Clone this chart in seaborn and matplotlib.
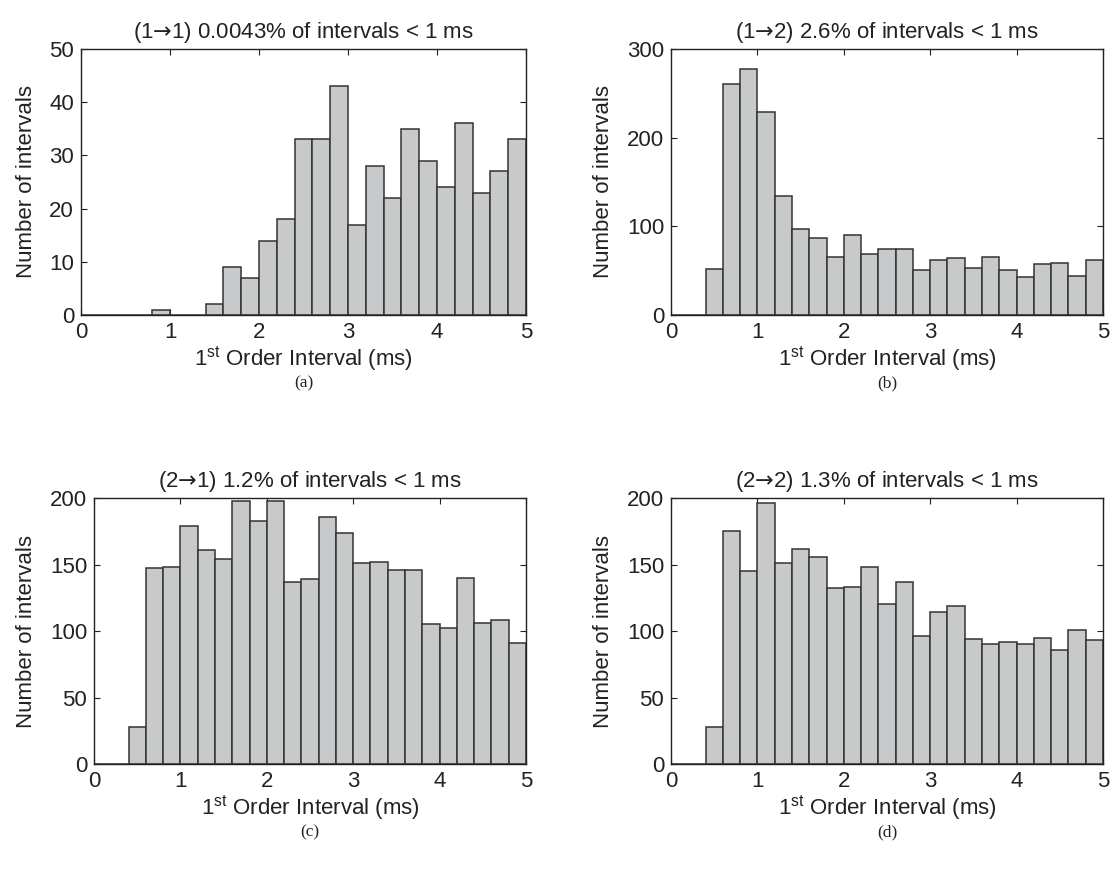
import numpy as np
import pandas as pd
import seaborn as sns
import matplotlib
matplotlib.use("Agg")
import matplotlib.pyplot as plt

# histogram bins: 25 bins of 0.2 ms between 0 and 5 ms
bin_edges = np.linspace(0, 5, 26)
bin_centers = (bin_edges[:-1] + bin_edges[1:]) / 2

counts_11 = [0, 0, 0, 0, 1, 0, 0, 2, 9, 7, 14, 18, 33, 33, 43, 17, 28, 22, 35, 29, 24, 36, 23, 27, 33]
counts_12 = [0, 0, 52, 261, 277, 229, 134, 97, 87, 65, 90, 69, 74, 74, 51, 62, 64, 53, 65, 51, 43, 57, 59, 44, 62]
counts_21 = [0, 0, 28, 147, 148, 179, 161, 154, 198, 183, 198, 137, 139, 186, 174, 151, 152, 146, 146, 105, 102, 140, 106, 108, 91]
counts_22 = [0, 0, 28, 175, 145, 196, 151, 162, 156, 132, 133, 148, 120, 137, 96, 114, 119, 94, 90, 92, 90, 95, 86, 101, 93]

titles = ["(1$\\mathsf{\u2192}$1) 0.0043% of intervals < 1 ms",
          "(1$\\mathsf{\u2192}$2) 2.6% of intervals < 1 ms",
          "(2$\\mathsf{\u2192}$1) 1.2% of intervals < 1 ms",
          "(2$\\mathsf{\u2192}$2) 1.3% of intervals < 1 ms"]
panel_labels = ["(a)", "(b)", "(c)", "(d)"]
y_max = [50, 300, 200, 200]
y_ticks = [[0, 10, 20, 30, 40, 50], [0, 100, 200, 300],
           [0, 50, 100, 150, 200], [0, 50, 100, 150, 200]]
x_ticks = [0, 1, 2, 3, 4, 5]

sns.set_style("ticks")
plt.rcParams['font.family'] = ['Liberation Sans', 'DejaVu Sans']
plt.rcParams['mathtext.fontset'] = 'custom'
plt.rcParams['mathtext.rm'] = 'Liberation Sans'
plt.rcParams['mathtext.it'] = 'Liberation Sans'
plt.rcParams['mathtext.sf'] = 'DejaVu Sans'

W, H = 1112, 871
fig = plt.figure(figsize=(W / 100, H / 100), dpi=100)

# axes boxes in pixels: left, top, right, bottom
boxes = [(81, 49, 526, 315), (671, 49, 1103, 315),
         (94, 498, 526, 764), (671, 498, 1103, 764)]

all_counts = [counts_11, counts_12, counts_21, counts_22]
for i in range(4):
    l, t, r, b = boxes[i]
    ax = fig.add_axes([l / W, 1 - b / H, (r - l) / W, (b - t) / H])
    df = pd.DataFrame({'x': bin_centers, 'n': all_counts[i]})
    sns.histplot(data=df, x='x', weights='n', binwidth=0.2, binrange=(0, 5), ax=ax,
                 color='#c8c9cb', edgecolor='#333333', linewidth=1.1, alpha=1.0)
    ax.set_xlim(0, 5)
    ax.set_ylim(0, y_max[i])
    ax.set_xticks(x_ticks)
    ax.set_yticks(y_ticks[i])
    ax.tick_params(direction='in', length=4, width=0.8, top=True, right=True,
                   labelsize=16, colors='#222222')
    ax.tick_params(axis='x', pad=5)
    ax.tick_params(axis='y', pad=5)
    for sp in ax.spines.values():
        sp.set_visible(True)
        sp.set_color('#222222')
        sp.set_linewidth(1.0)
    ax.set_title(titles[i], fontsize=16, pad=8, color='#222222')
    ax.set_xlabel('1$^{\\rm st}$ Order Interval (ms)', fontsize=16, color='#222222', labelpad=0.5)
    ax.set_ylabel('Number of intervals', fontsize=16, color='#222222', labelpad=9)
    fig.text((l + r) / 2 / W, 1 - (b + 68) / H, panel_labels[i],
             ha='center', va='center', fontsize=12.5, family='Liberation Serif', color='#222222')

fig.savefig('out.png', dpi=100, facecolor='white')
